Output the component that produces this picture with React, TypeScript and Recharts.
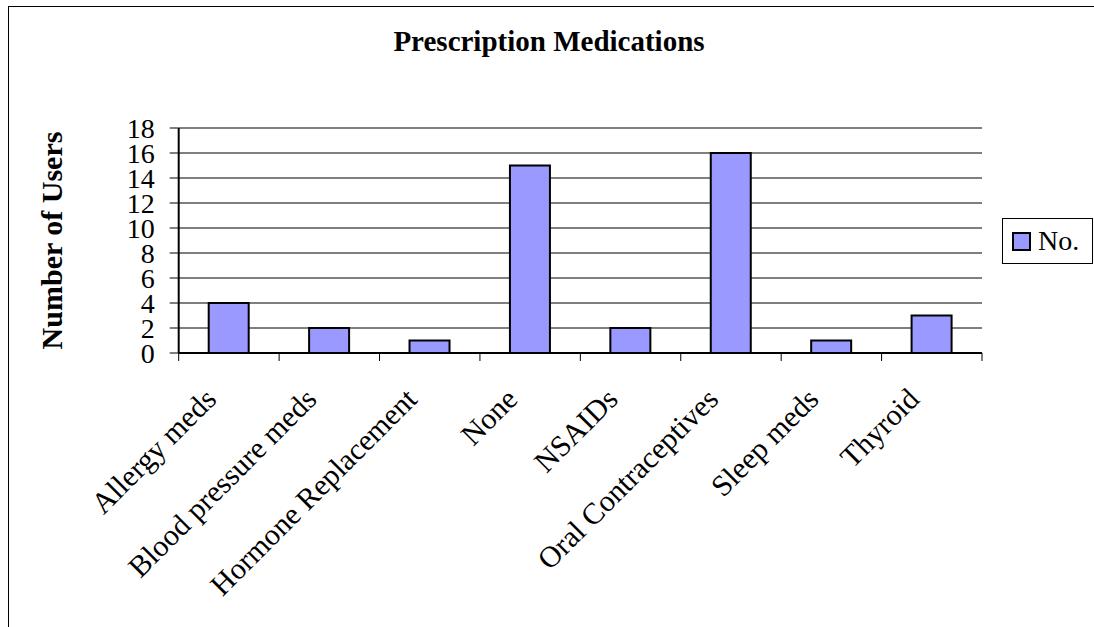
import { BarChart, Bar, XAxis, YAxis, CartesianGrid, ReferenceLine } from 'recharts';

const categories = [
  'Allergy meds',
  'Blood pressure meds',
  'Hormone Replacement',
  'None',
  'NSAIDs',
  'Oral Contraceptives',
  'Sleep meds',
  'Thyroid',
];
const users = [4, 2, 1, 15, 2, 16, 1, 3];
const yTicks = [0, 2, 4, 6, 8, 10, 12, 14, 16, 18];
const seriesName = 'No.';

const data = categories.map((name, i) => ({ name, value: users[i] }));

const FONT = '"Liberation Serif", "Times New Roman", serif';
const BAR_FILL = '#9999FF';

const XTick = (props: any) => {
  const { x, y, payload, index, visibleTicksCount } = props;
  const half = payload?.offset ?? 0;
  return (
    <g>
      <line x1={x - half} y1={y} x2={x - half} y2={y + 8} stroke="#000" />
      {index === visibleTicksCount - 1 && (
        <line x1={x + half} y1={y} x2={x + half} y2={y + 8} stroke="#000" />
      )}
      <text
        transform={`translate(${x - 11},${y + 48}) rotate(-45)`}
        textAnchor="end"
        fontFamily={FONT}
        fontSize={30}
        fill="#000"
      >
        {payload.value}
      </text>
    </g>
  );
};

const YLabel = (props: any) => {
  const { viewBox } = props;
  const cx = viewBox.x + 54;
  const cy = viewBox.y + viewBox.height / 2;
  return (
    <text
      transform={`translate(${cx},${cy}) rotate(-90)`}
      textAnchor="middle"
      fontFamily={FONT}
      fontSize={30}
      fontWeight="bold"
      fill="#000"
    >
      Number of Users
    </text>
  );
};

const LegendBox = () => (
  <div
    style={{
      position: 'absolute',
      left: 1002,
      top: 218,
      border: '1px solid #000',
      width: 91,
      height: 46,
      boxSizing: 'border-box',
      display: 'flex',
      alignItems: 'center',
      background: '#fff',
      fontFamily: FONT,
      fontSize: 28,
      color: '#000',
    }}
  >
    <span
      style={{
        display: 'inline-block',
        width: 15,
        height: 15,
        background: BAR_FILL,
        border: '2px solid #000',
        marginLeft: 9,
        marginRight: 7,
      }}
    />
    <span>{seriesName}</span>
  </div>
);

export default function App() {
  return (
    <div
      style={{
        position: 'absolute',
        left: 0,
        top: 0,
        width: 1094,
        height: 627,
        overflow: 'hidden',
        background: '#fff',
      }}
    >
      <div
        style={{
          position: 'absolute',
          left: 8,
          top: 6,
          width: 1200,
          height: 800,
          border: '1px solid #000',
        }}
      />
      <div
        style={{
          position: 'absolute',
          left: 0,
          width: 1098,
          top: 25,
          textAlign: 'center',
          fontFamily: FONT,
          fontSize: 29,
          fontWeight: 'bold',
          color: '#000',
        }}
      >
        Prescription Medications
      </div>
      <div style={{ position: 'absolute', left: 0, top: 0 }}>
        <BarChart
          width={1094}
          height={627}
          data={data}
          margin={{ top: 128, right: 112, bottom: 74, left: 8 }}
          barSize={40}
        >
          <CartesianGrid horizontal vertical={false} stroke="#000" strokeWidth={1} />
          <ReferenceLine y={18} stroke="#808080" strokeWidth={2} />
          <XAxis
            dataKey="name"
            height={200}
            interval={0}
            tickLine={false}
            tickSize={0}
            tickMargin={0}
            axisLine={{ stroke: '#000', strokeWidth: 2 }}
            tick={<XTick />}
          />
          <YAxis
            domain={[0, 18]}
            ticks={yTicks}
            interval={0}
            width={170.7}
            tickSize={9}
            tickMargin={15}
            axisLine={{ stroke: '#000', strokeWidth: 2 }}
            tickLine={{ stroke: '#000' }}
            tick={{ fontFamily: FONT, fontSize: 28, fill: '#000' }}
            label={<YLabel />}
          />
          <YAxis
            yAxisId="right"
            orientation="right"
            width={0}
            domain={[0, 18]}
            tick={false}
            tickLine={false}
            axisLine={{ stroke: '#808080', strokeWidth: 2 }}
          />
          <Bar
            dataKey="value"
            name={seriesName}
            fill={BAR_FILL}
            stroke="#000"
            strokeWidth={2}
            isAnimationActive={false}
          />
        </BarChart>
      </div>
      <LegendBox />
    </div>
  );
}
